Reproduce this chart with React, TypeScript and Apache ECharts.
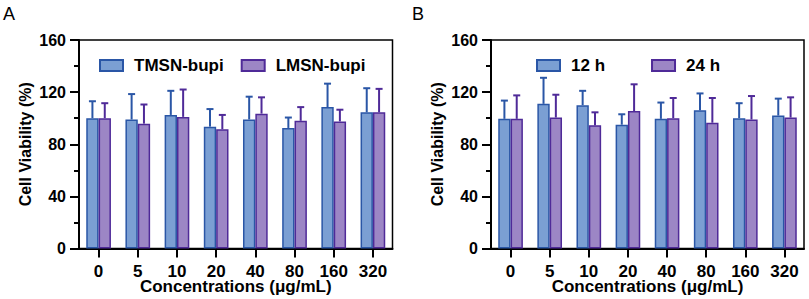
import React, { useEffect, useRef } from "react";
import * as echarts from "echarts";

const categories = ["0", "5", "10", "20", "40", "80", "160", "320"];
const yTicks = [0, 40, 80, 120, 160];

const tmsnMean = [100, 99, 102.5, 93.5, 99, 92.5, 108.5, 104.5];
const tmsnSD = [13, 19.5, 18.5, 13.5, 17.5, 8, 18, 18.5];
const lmsnMean = [100, 95.8, 101, 91.5, 103.5, 98, 97.5, 104.5];
const lmsnSD = [11.5, 14.7, 21, 11, 12.5, 10.5, 9, 18];

const h12Mean = [99.5, 111, 110, 95, 99.5, 106, 100, 102];
const h12SD = [14, 20, 11, 8, 12.5, 13, 11.5, 13];
const h24Mean = [99.5, 100.5, 94.5, 105.5, 100, 96.5, 99, 100.5];
const h24SD = [18, 17.5, 10, 20.5, 15.5, 19, 18, 15.5];

const FONT = "'Liberation Sans', Arial, sans-serif";
const BLUE_FILL = "#7b9fd3";
const BLUE_EDGE = "#2a56a6";
const PURPLE_FILL = "#9c86c5";
const PURPLE_EDGE = "#4f2a98";
const BAR_FRAC = 0.315;

function errSeries(name: string, idx: number, mean: number[], sd: number[], side: number, color: string) {
  return {
    type: "custom",
    name: name + "-err",
    xAxisIndex: idx,
    yAxisIndex: idx,
    z: 5,
    data: mean.map((m, i) => [i, m, sd[i]]),
    encode: { x: 0, y: 1 },
    renderItem: (params: any, api: any) => {
      const x = api.value(0);
      const m = api.value(1);
      const s = api.value(2);
      const base = api.coord([x, m]);
      const top = api.coord([x, m + s]);
      const band = api.size([1, 0])[0];
      const cx = base[0] + (side * BAR_FRAC * band) / 2;
      const half = 3.5;
      return {
        type: "group",
        children: [
          { type: "line", shape: { x1: cx, y1: base[1], x2: cx, y2: top[1] }, style: { stroke: color, lineWidth: 2 } },
          { type: "line", shape: { x1: cx - half, y1: top[1], x2: cx + half, y2: top[1] }, style: { stroke: color, lineWidth: 2 } },
        ],
      };
    },
  };
}

function barSeries(name: string, idx: number, data: number[], fill: string, edge: string) {
  return {
    type: "bar",
    name,
    xAxisIndex: idx,
    yAxisIndex: idx,
    data,
    barWidth: (BAR_FRAC * 100).toFixed(1) + "%",
    barGap: "0%",
    itemStyle: { color: fill, borderColor: edge, borderWidth: 1.5 },
    z: 3,
  };
}

function xAxisCfg(idx: number) {
  return {
    type: "category",
    gridIndex: idx,
    data: categories,
    boundaryGap: true,
    name: "Concentrations (μg/mL)",
    nameLocation: "middle",
    nameGap: 30.5,
    nameMoveOverlap: false,
    nameTextStyle: { fontFamily: FONT, fontSize: 17, fontWeight: "bold", color: "#000", verticalAlign: "top", lineHeight: 14 },
    axisLine: { show: true, lineStyle: { color: "#000", width: 2 } },
    axisTick: { show: true, alignWithLabel: true, length: 9, lineStyle: { color: "#000", width: 2 } },
    axisLabel: { fontFamily: FONT, fontSize: 17, fontWeight: "bold", color: "#000", margin: 16, lineHeight: 14 },
  };
}

function yAxisCfg(idx: number) {
  return {
    type: "value",
    gridIndex: idx,
    min: yTicks[0],
    max: yTicks[yTicks.length - 1],
    interval: yTicks[1] - yTicks[0],
    name: "Cell Viability (%)",
    nameLocation: "middle",
    nameGap: 46,
    nameMoveOverlap: false,
    nameTextStyle: { fontFamily: FONT, fontSize: 16, fontWeight: "bold", color: "#000" },
    axisLine: { show: true, lineStyle: { color: "#000", width: 2 } },
    axisTick: { show: true, length: 9, lineStyle: { color: "#000", width: 2 } },
    minorTick: { show: true, splitNumber: 2, length: 5, lineStyle: { color: "#000", width: 2 } },
    splitLine: { show: false },
    axisLabel: { fontFamily: FONT, fontSize: 16, fontWeight: "bold", color: "#000", margin: 13 },
  };
}

export default function App() {
  const ref = useRef<HTMLDivElement>(null);
  useEffect(() => {
    if (!ref.current) return;
    const chart = echarts.init(ref.current, null, { renderer: "svg" });
    chart.setOption({
      animation: false,
      backgroundColor: "#fff",
      grid: [
        { left: 79, right: 416.5, top: 40, bottom: 50.5, show: true, borderColor: "#000", borderWidth: 1.5, outerBoundsMode: "none", containLabel: false },
        { left: 491, right: 5, top: 40, bottom: 50.5, show: true, borderColor: "#000", borderWidth: 1.5, outerBoundsMode: "none", containLabel: false },
      ],
      legend: [
        {
          data: ["TMSN-bupi", "LMSN-bupi"],
          left: 94,
          top: 52,
          icon: "rect",
          itemWidth: 23,
          itemHeight: 11,
          itemGap: 17,
          textStyle: { fontFamily: FONT, fontSize: 17, fontWeight: "bold", color: "#000", padding: [0, 0, 0, 6] },
        },
        {
          data: ["12 h", "24 h"],
          left: 531,
          top: 52,
          icon: "rect",
          itemWidth: 23,
          itemHeight: 11,
          itemGap: 46,
          textStyle: { fontFamily: FONT, fontSize: 17, fontWeight: "bold", color: "#000", padding: [0, 0, 0, 6] },
        },
      ],
      graphic: [
        { type: "text", left: 3, top: 5, style: { text: "A", font: `18px ${FONT}`, fill: "#000" } },
        { type: "text", left: 412, top: 5, style: { text: "B", font: `18px ${FONT}`, fill: "#000" } },
      ],
      xAxis: [xAxisCfg(0), xAxisCfg(1)],
      yAxis: [yAxisCfg(0), yAxisCfg(1)],
      series: [
        barSeries("TMSN-bupi", 0, tmsnMean, BLUE_FILL, BLUE_EDGE),
        barSeries("LMSN-bupi", 0, lmsnMean, PURPLE_FILL, PURPLE_EDGE),
        errSeries("TMSN-bupi", 0, tmsnMean, tmsnSD, -1, BLUE_EDGE),
        errSeries("LMSN-bupi", 0, lmsnMean, lmsnSD, 1, PURPLE_EDGE),
        barSeries("12 h", 1, h12Mean, BLUE_FILL, BLUE_EDGE),
        barSeries("24 h", 1, h24Mean, PURPLE_FILL, PURPLE_EDGE),
        errSeries("12 h", 1, h12Mean, h12SD, -1, BLUE_EDGE),
        errSeries("24 h", 1, h24Mean, h24SD, 1, PURPLE_EDGE),
      ],
    });
    return () => chart.dispose();
  }, []);
  return <div ref={ref} style={{ position: "fixed", left: 0, top: 0, width: 809, height: 299 }} />;
}
